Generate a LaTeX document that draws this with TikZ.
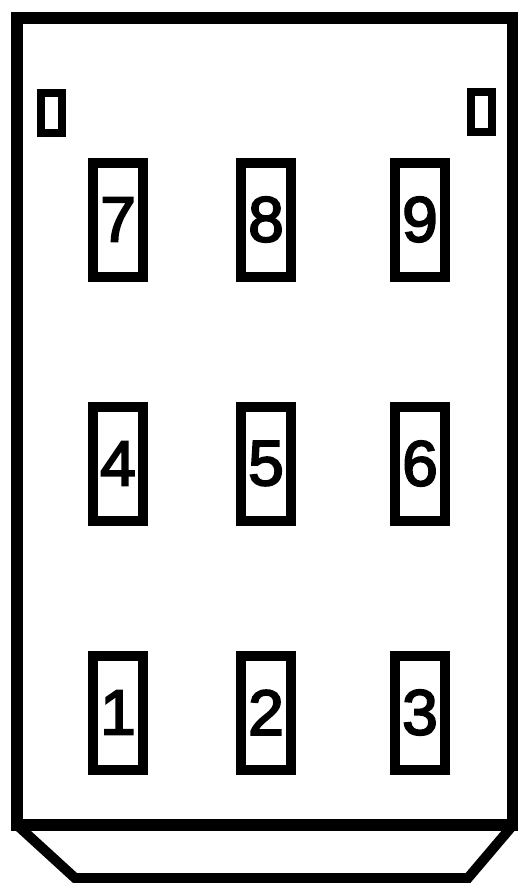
\documentclass[tikz,border=0pt]{standalone}
\usepackage{fontspec}
\setmainfont{Liberation Sans}
\newfontfamily\keydigits[FakeBold=3]{Liberation Sans}
\begin{document}
\begin{tikzpicture}[x=1pt,y=-1pt,
  keybox/.style={draw=black,line width=10pt,minimum width=50pt,minimum height=114pt,inner sep=0pt,
    font=\keydigits\fontsize{64}{64}\selectfont},
  ledbox/.style={draw=black,line width=8pt,minimum width=21pt,minimum height=40pt,inner sep=0pt},
  frame/.style={draw=black,line width=12pt,line join=miter},
  base/.style={draw=black,line width=10pt,line join=miter}]
\useasboundingbox (0,0) rectangle (518,883);
\draw[frame] (17,18) rectangle (513,825);
\coordinate (bl) at (17,825);
\coordinate (br) at (513,825);
\draw[base] (bl) -- (75,878) -- (468,878) -- (br);
\node[ledbox] (ledL) at (51.5,112.5) {};
\node[ledbox] (ledR) at (481,112) {};
\node[keybox] (k7) at (118,219.5) {7};
\node[keybox] (k8) at (266,219.5) {8};
\node[keybox] (k9) at (420,219.5) {9};
\node[keybox] (k4) at (118,463.5) {4};
\node[keybox] (k5) at (266,463.5) {5};
\node[keybox] (k6) at (420,463.5) {6};
\node[keybox] (k1) at (118,712.5) {1};
\node[keybox] (k2) at (266,712.5) {2};
\node[keybox] (k3) at (420,712.5) {3};
\end{tikzpicture}
\end{document}
